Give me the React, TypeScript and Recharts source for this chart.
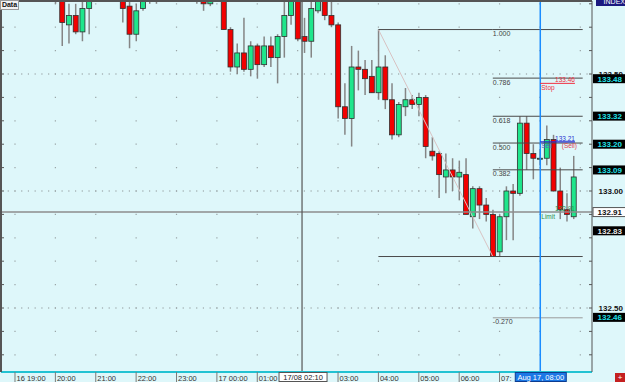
import React from 'react';
import {
  ComposedChart,
  Bar,
  XAxis,
  YAxis,
  CartesianGrid,
  ReferenceLine,
} from 'recharts';

const WIDTH = 625;
const HEIGHT = 382;
const FONT = '"Liberation Sans", Arial, sans-serif';

// 10-minute candles, slot 0 = 16 Aug 19:00
const opens = [
  134.02, 133.97, 134.0, 133.96, 133.9, 133.94, 133.89, 133.86, 133.71, 133.75,
  133.68, 133.78, 133.84, 133.88, 133.92, 133.9, 133.86, 133.79, 133.67, 133.78,
  133.83, 133.86, 133.84, 133.9, 133.88, 133.86, 133.84, 133.89, 133.85, 133.8,
  133.84, 133.88, 133.69, 133.53, 133.59, 133.52, 133.62, 133.54, 133.62, 133.57,
  133.66, 133.75, 133.85, 133.66, 133.64, 133.77, 133.84, 133.75, 133.71, 133.36,
  133.31, 133.53, 133.52, 133.49, 133.42, 133.53, 133.39, 133.24, 133.36, 133.39,
  133.37, 133.4, 133.17, 133.16, 133.06, 133.09, 133.06, 133.07, 132.89, 133.01,
  132.94, 132.9, 132.74, 132.89, 133.0, 132.99, 133.29, 133.16, 133.14, 133.14,
  133.22, 133.0, 132.92, 132.89,
];
const highs = [
  134.08, 134.03, 134.06, 133.99, 133.97, 133.98, 133.95, 133.92, 133.8, 133.8,
  133.82, 133.86, 133.9, 133.95, 133.98, 133.94, 133.89, 133.82, 133.8, 133.86,
  133.9, 133.9, 133.93, 133.96, 133.94, 133.9, 133.91, 133.92, 133.88, 133.87,
  133.9, 133.91, 133.7, 133.63, 133.74, 133.64, 133.63, 133.66, 133.66, 133.67,
  133.82, 133.86, 133.88, 133.74, 133.82, 133.87, 133.88, 133.82, 133.72, 133.46,
  133.62, 133.6, 133.56, 133.56, 133.69, 133.58, 133.46, 133.38, 133.44, 133.41,
  133.42, 133.41, 133.23, 133.17, 133.16, 133.14, 133.13, 133.14, 133.02, 133.02,
  132.97, 132.92, 132.9, 133.02, 133.03, 133.32, 133.32, 133.2, 133.18, 133.28,
  133.24, 133.1, 132.99, 133.15,
];
const lows = [
  133.92, 133.9, 133.94, 133.86, 133.85, 133.86, 133.8, 133.62, 133.63, 133.67,
  133.64, 133.67, 133.81, 133.84, 133.86, 133.83, 133.72, 133.61, 133.64, 133.77,
  133.8, 133.8, 133.82, 133.85, 133.83, 133.81, 133.83, 133.8, 133.77, 133.79,
  133.83, 133.69, 133.51, 133.5, 133.51, 133.49, 133.48, 133.53, 133.53, 133.46,
  133.57, 133.71, 133.64, 133.59, 133.57, 133.76, 133.73, 133.7, 133.31, 133.24,
  133.19, 133.43, 133.41, 133.42, 133.39, 133.35, 133.22, 133.23, 133.32, 133.35,
  133.32, 133.14, 133.13, 132.97, 132.99, 133.0, 132.96, 132.9, 132.84, 132.88,
  132.87, 132.72, 132.72, 132.79, 132.79, 132.98, 133.09, 133.05, 133.11, 133.11,
  133.0, 132.88, 132.87, 132.88,
];
const closes = [
  133.97, 134.0, 133.96, 133.9, 133.94, 133.89, 133.86, 133.72, 133.75, 133.68,
  133.78, 133.84, 133.88, 133.92, 133.9, 133.86, 133.78, 133.67, 133.77, 133.83,
  133.86, 133.84, 133.9, 133.88, 133.86, 133.84, 133.89, 133.85, 133.8, 133.84,
  133.88, 133.69, 133.53, 133.59, 133.52, 133.62, 133.54, 133.62, 133.57, 133.66,
  133.75, 133.83, 133.65, 133.64, 133.78, 133.84, 133.75, 133.71, 133.36, 133.31,
  133.53, 133.52, 133.48, 133.42, 133.53, 133.39, 133.24, 133.37, 133.39, 133.37,
  133.4, 133.19, 133.15, 133.07, 133.09, 133.06, 133.08, 132.9, 133.01, 132.94,
  132.9, 132.72, 132.89, 133.0, 132.99, 133.29, 133.16, 133.14, 133.14, 133.22,
  133.0, 132.92, 132.9, 133.06,
];

// hour ticks; 02:00 and 08:00 sit under the crosshair / cursor boxes
const hourSlots = [0, 6, 12, 18, 24, 30, 36, 42, 48, 54, 60, 66, 72, 78];
const hourLabels = [
  '16 19:00', '20:00', '21:00', '22:00', '23:00', '17 00:00', '01:00',
  '', '03:00', '04:00', '05:00', '06:00', '07:00', '',
];

// crosshair + cursor
const crossSlot = 42.65;
const crossLabel = '17/08 02:10';
const crossPrice = 132.91;
const cursorSlot = 78.05;
const cursorLabel = 'Aug 17, 08:00';

// fibonacci retracement
const fibHigh = { slot: 54, price: 133.69 };
const fibLow = { slot: 71, price: 132.72 };
const fibEnd = 84.35;
const fibRatios = [1, 0.786, 0.618, 0.5, 0.382, 0, -0.27];
const fibLabels = ['1.000', '0.786', '0.618', '0.500', '0.382', '', '-0.270'];

// orders
const orderEnd = 83.2;
const stopPrice = 133.46;
const entryPrice = 133.21;
const limitPrice = 132.91;

// price axis
const gridPrices = [132.3, 132.4, 132.5, 132.6, 132.7, 132.8, 132.9, 133.0, 133.1, 133.2, 133.3, 133.4, 133.5, 133.6, 133.7, 133.8];
const majorPrices = [133.5, 133.0, 132.5];
const levelTags = [133.48, 133.32, 133.2, 133.09, 132.83, 132.46];

const X_MIN = -2.08;
const X_MAX = 85.736;
const Y_MIN = 132.2265;
const Y_MAX = 133.812;
const PLOT_LEFT = 1;
const PLOT_RIGHT = 592;
const PX_PER_SLOT = (PLOT_RIGHT - PLOT_LEFT) / (X_MAX - X_MIN);
const SLOT0_X = PLOT_LEFT + (0 - X_MIN) * PX_PER_SLOT;

const candles = opens.map((o, i) => ({
  slot: i,
  open: o,
  high: highs[i],
  low: lows[i],
  close: closes[i],
}));

const fibLevels = fibRatios.map((r, k) => ({
  ratio: r,
  label: fibLabels[k],
  price: fibLow.price + r * (fibHigh.price - fibLow.price),
}));

function Candle(props: any) {
  const { x, y, width, height, payload } = props;
  if (!payload || height == null) return null;
  const { open, close, high, low } = payload;
  const span = high - low;
  const k = span > 0 ? height / span : 0;
  const yOf = (v: number) => y + (high - v) * k;
  const cx = x + width / 2;
  const up = close >= open;
  const top = yOf(Math.max(open, close));
  const bot = yOf(Math.min(open, close));
  return (
    <g>
      <line x1={cx} x2={cx} y1={y} y2={y + height} stroke="#858585" strokeWidth={1.5} />
      <rect
        x={cx - 2.5}
        y={top}
        width={5}
        height={Math.max(bot - top, 1)}
        fill={up ? '#1fe68c' : '#f20000'}
        stroke="#303030"
        strokeWidth={0.8}
      />
    </g>
  );
}

function gridRow(dense: boolean) {
  return (p: any) => {
    const { x1, x2, y1 } = p;
    const period = dense ? PX_PER_SLOT : PX_PER_SLOT * 6;
    const dash = 1.2;
    const d = (((SLOT0_X - x1 - dash / 2) % period) + period) % period;
    const offset = (period - d) % period;
    return (
      <g key={p.key}>
        <line
          x1={x1}
          x2={x2}
          y1={y1}
          y2={y1}
          stroke={dense ? '#8c9496' : '#9aa4a6'}
          strokeWidth={1.2}
          strokeDasharray={`${dash} ${period - dash}`}
          strokeDashoffset={offset}
        />
        {!dense && <line x1={x1} x2={x1 + 3} y1={y1} y2={y1} stroke="#555" />}
        {!dense && <line x1={x2 - 3} x2={x2} y1={y1} y2={y1} stroke="#555" />}
      </g>
    );
  };
}

function TimeTick(props: any) {
  const { x, y, payload } = props;
  const v = payload.value;
  if (v === crossSlot) {
    return (
      <g>
        <rect x={x - 23} y={y + 0.5} width={48} height={9} fill="#fff" stroke="#555" />
        <text x={x + 1} y={y + 8} fontSize={7.5} textAnchor="middle" fill="#222" fontFamily={FONT}>
          {crossLabel}
        </text>
      </g>
    );
  }
  if (v === cursorSlot) {
    return (
      <g>
        <rect x={x - 25} y={y + 0.5} width={51} height={9} fill="#1c78e6" stroke="#0c3c90" />
        <text x={x + 0.5} y={y + 8} fontSize={7.5} textAnchor="middle" fill="#fff" fontFamily={FONT}>
          {cursorLabel}
        </text>
      </g>
    );
  }
  const idx = hourSlots.indexOf(v);
  const label = hourLabels[idx];
  // 07:00 is partly hidden by the cursor box in the reference
  const shown = v === 72 ? label.slice(0, 3) : label;
  return (
    <g>
      <line x1={x} x2={x} y1={y} y2={y + 10} stroke="#7a7a7a" />
      {shown && (
        <text x={x + 1.5} y={y + 8.5} fontSize={7.5} fill="#333" fontFamily={FONT}>
          {shown}
        </text>
      )}
    </g>
  );
}

function PriceTick(props: any) {
  const { x, y, payload } = props;
  const v = payload.value;
  const txt = v.toFixed(2);
  if (majorPrices.includes(v) && !levelTags.includes(v)) {
    return (
      <text x={x + 31} y={y + 3} fontSize={8} fontWeight="bold" textAnchor="end" fill="#111" fontFamily={FONT}>
        {txt}
      </text>
    );
  }
  if (v === crossPrice) {
    return (
      <g>
        <rect x={x + 1} y={y - 4.5} width={33} height={9} fill="#fff" stroke="#555" />
        <text x={x + 30} y={y + 3} fontSize={8} fontWeight="bold" textAnchor="end" fill="#111" fontFamily={FONT}>
          {txt}
        </text>
      </g>
    );
  }
  return (
    <g>
      <rect x={x + 1} y={y - 4.5} width={33} height={9} fill="#000" />
      <text
        x={x + 30}
        y={y + 3}
        fontSize={8}
        fontWeight="bold"
        textAnchor="end"
        fill={v === 132.83 ? '#e8e8e8' : '#21e0e8'}
        fontFamily={FONT}
      >
        {txt}
      </text>
    </g>
  );
}

function FibLabel(props: any) {
  const vb = props.viewBox || {};
  return (
    <text x={vb.x} y={(vb.y || 0) + 6.5} fontSize={7} fill="#444" fontFamily={FONT}>
      {props.text}
    </text>
  );
}

function OrderLabel(props: any) {
  const vb = props.viewBox || {};
  const x0 = vb.x || 0;
  const x1 = x0 + (vb.width || 0);
  const y = vb.y || 0;
  return (
    <g fontFamily={FONT} fontSize={6.5}>
      <text x={x1} y={y - 1} textAnchor="end" fill={props.topColor}>
        {props.top}
      </text>
      {props.right && (
        <text x={x1 + 2} y={y + 6} textAnchor="end" fill="#e04050">
          {props.right}
        </text>
      )}
      <text x={x0 + 1} y={y + 6.5} fill={props.leftColor}>
        {props.left}
      </text>
    </g>
  );
}

export default function App() {
  return (
    <div
      style={{
        position: 'absolute',
        left: 0,
        top: 0,
        width: WIDTH,
        height: HEIGHT,
        background: '#def7fa',
        overflow: 'hidden',
      }}
    >
      <ComposedChart
        width={WIDTH}
        height={HEIGHT}
        data={candles}
        margin={{ top: 1, right: 0, bottom: 0, left: 1 }}
      >
        <CartesianGrid vertical={false} horizontalValues={gridPrices} horizontal={gridRow(false)} />
        <CartesianGrid vertical={false} horizontalValues={majorPrices} horizontal={gridRow(true)} />
        <XAxis
          dataKey="slot"
          type="number"
          domain={[X_MIN, X_MAX]}
          allowDataOverflow
          ticks={[...hourSlots, crossSlot, cursorSlot]}
          interval={0}
          height={10}
          tickLine={false}
          tickSize={0}
          tickMargin={0}
          axisLine={{ stroke: '#22c2d2', strokeWidth: 2 }}
          tick={(p: any) => <TimeTick {...p} />}
        />
        <YAxis
          orientation="right"
          type="number"
          width={33}
          domain={[Y_MIN, Y_MAX]}
          allowDataOverflow
          ticks={[...majorPrices, ...levelTags, crossPrice]}
          interval={0}
          tickLine={false}
          tickSize={0}
          tickMargin={0}
          axisLine={{ stroke: '#555' }}
          tick={(p: any) => <PriceTick {...p} />}
        />
        <Bar
          dataKey={(d: any) => [d.low, d.high]}
          barSize={5}
          shape={(p: any) => <Candle {...p} />}
          isAnimationActive={false}
        />
        <ReferenceLine
          segment={[
            { x: fibHigh.slot, y: fibHigh.price },
            { x: fibLow.slot, y: fibLow.price },
          ]}
          stroke="#d8c2c2"
        />
        <ReferenceLine
          segment={[
            { x: fibHigh.slot, y: fibHigh.price },
            { x: fibLow.slot, y: fibHigh.price },
          ]}
          stroke="#4a4a4a"
        />
        <ReferenceLine
          segment={[
            { x: fibHigh.slot, y: fibLow.price },
            { x: fibLow.slot, y: fibLow.price },
          ]}
          stroke="#4a4a4a"
        />
        {fibLevels.map((f) => (
          <ReferenceLine
            key={'fib' + f.ratio}
            segment={[
              { x: fibLow.slot, y: f.price },
              { x: fibEnd, y: f.price },
            ]}
            stroke={f.ratio < 0 ? '#9a9a9a' : '#4a4a4a'}
            label={f.label ? (p: any) => <FibLabel {...p} text={f.label} /> : undefined}
          />
        ))}
        <ReferenceLine y={crossPrice} stroke="#8c8c8c" strokeWidth={1.6} />
        <ReferenceLine x={crossSlot} stroke="#555" strokeWidth={1.2} />
        <ReferenceLine x={cursorSlot} stroke="#1a8cff" strokeWidth={1.5} />
        <ReferenceLine
          segment={[
            { x: cursorSlot, y: stopPrice },
            { x: orderEnd, y: stopPrice },
          ]}
          stroke="#f03040"
          label={(p: any) => (
            <OrderLabel {...p} top={stopPrice.toFixed(2)} topColor="#f03040" left="Stop" leftColor="#f03040" />
          )}
        />
        <ReferenceLine
          segment={[
            { x: cursorSlot, y: entryPrice },
            { x: orderEnd, y: entryPrice },
          ]}
          stroke="#2830d0"
          strokeWidth={1.3}
          label={(p: any) => (
            <OrderLabel
              {...p}
              top={entryPrice.toFixed(2)}
              topColor="#2830d0"
              left="Sell"
              leftColor="#5060c0"
              right="(Sell)"
            />
          )}
        />
        <ReferenceLine
          segment={[
            { x: cursorSlot, y: limitPrice },
            { x: orderEnd, y: limitPrice },
          ]}
          stroke="none"
          label={(p: any) => (
            <OrderLabel {...p} top={limitPrice.toFixed(2)} topColor="#2a9050" left="Limit" leftColor="#2a9050" />
          )}
        />
      </ComposedChart>
      <div style={{ position: 'absolute', left: 0, top: 0, width: 1.5, height: 372, background: '#555' }} />
      <div style={{ position: 'absolute', left: 0, top: 0, width: 592, height: 1.5, background: '#555' }} />
      <div
        style={{
          position: 'absolute',
          left: 0,
          top: 0,
          width: 17,
          height: 8,
          background: '#f2f2f2',
          border: '1px solid #999',
          fontFamily: FONT,
          fontSize: 7,
          fontWeight: 'bold',
          lineHeight: '8px',
          textAlign: 'center',
          color: '#111',
        }}
      >
        Data
      </div>
      <div
        style={{
          position: 'absolute',
          left: 596,
          top: 0,
          width: 29,
          height: 6,
          background: '#1a1a80',
          overflow: 'hidden',
          fontFamily: FONT,
          fontSize: 7,
          lineHeight: '3px',
          textAlign: 'right',
          color: '#fff',
        }}
      >
        INDEX
      </div>
      <div
        style={{
          position: 'absolute',
          left: 615,
          top: 373,
          width: 10,
          height: 9,
          background: '#c42020',
          color: '#fff',
          fontFamily: FONT,
          fontSize: 8,
          lineHeight: '9px',
          textAlign: 'center',
        }}
      >
        +
      </div>
    </div>
  );
}
